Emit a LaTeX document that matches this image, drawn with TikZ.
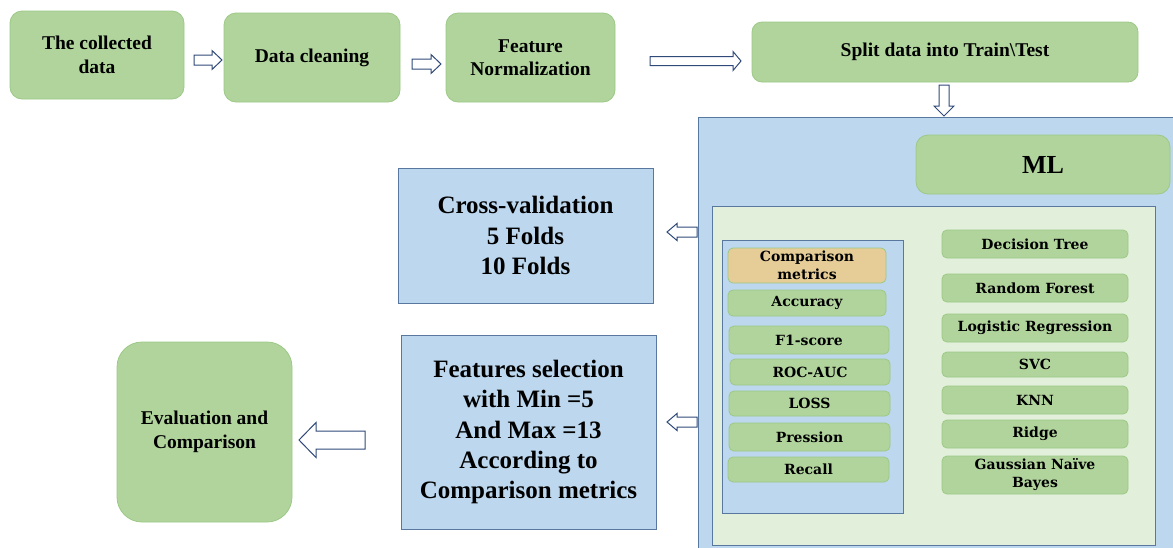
\documentclass[tikz,border=0pt]{standalone}
\usepackage{fontspec}
\setmainfont{Liberation Serif}
\newfontfamily\dvs{DejaVu Serif}
\usetikzlibrary{calc}
\definecolor{gfill}{HTML}{B1D49D}
\definecolor{gline}{HTML}{9CC986}
\definecolor{bfill}{HTML}{BDD7EE}
\definecolor{bline}{HTML}{5878A0}
\definecolor{lgfill}{HTML}{E2EFDA}
\definecolor{tan}{HTML}{E6CD98}
\definecolor{aline}{HTML}{2F4A78}
\tikzset{
  bigbox/.style={draw=gline, fill=gfill, rounded corners=12pt, line width=0.8pt, align=center,
    font=\bfseries\fontsize{19.5}{23.5}\selectfont, inner sep=0pt},
  bluebox/.style={draw=bline, fill=bfill, line width=1pt, align=center, inner sep=0pt},
  smallbox/.style={draw=gline, fill=gfill, rounded corners=5pt, line width=0.8pt, align=center,
    font=\dvs\bfseries\fontsize{14}{18}\selectfont, inner sep=0pt, minimum width=186pt, minimum height=28pt},
  metbox/.style={smallbox, minimum width=160pt},
  arrowst/.style={draw=aline, fill=white, line width=1pt, line join=miter},
}
% #1 tail, #2 tip, #3 shaft half width, #4 head half width, #5 head length
\newcommand{\blockarrow}[5]{%
  \coordinate (ba@b) at ($(#2)!#5!(#1)$);
  \draw[arrowst] ($(#1)!#3!90:(#2)$) -- ($(ba@b)!#3!-90:(#1)$) -- ($(ba@b)!#4!-90:(#1)$) -- (#2)
    -- ($(ba@b)!#4!90:(#1)$) -- ($(ba@b)!#3!90:(#1)$) -- ($(#1)!#3!-90:(#2)$) -- cycle;
}
\begin{document}
\begin{tikzpicture}[x=1pt,y=-1pt]
\useasboundingbox (0,0) rectangle (1173,547);
% top row
\node[bigbox, minimum width=174pt, minimum height=88pt] (n1) at (97,55) {The collected\\data};
\node[bigbox, minimum width=176pt, minimum height=89pt] (n2) at (312,57.5) {Data cleaning};
\node[bigbox, minimum width=169pt, minimum height=89pt] (n3) at (530.5,57.5) {Feature\\Normalization};
\node[bigbox, rounded corners=10pt, minimum width=386pt, minimum height=60pt] (n4) at (945,52) {Split data into Train\textbackslash Test};
% ML container
\node[bluebox, minimum width=477pt, minimum height=432pt] (mlc) at (936.5,333) {};
\node[bigbox, rounded corners=12pt, minimum width=254pt, minimum height=59pt, font=\bfseries\fontsize{26}{30}\selectfont] (ml) at (1043,164.5) {ML};
\node[draw=bline, fill=lgfill, line width=1pt, minimum width=443pt, minimum height=339pt, inner sep=0pt] (inner) at (933.5,375.5) {};
\node[bluebox, minimum width=181pt, minimum height=273pt] (met) at (812.5,376.5) {};
% metrics
\node[metbox, fill=tan, minimum width=158pt, minimum height=35pt] (cm) at (807,265.5) {Comparison\\metrics};
\node[metbox, minimum width=158pt, minimum height=26pt] (acc) at (807,303) {Accuracy};
\node[metbox, minimum height=28pt] (f1) at (809,340) {F1-score};
\node[metbox, minimum height=26pt] (roc) at (810,372) {ROC-AUC};
\node[metbox, minimum width=161pt, minimum height=25pt] (loss) at (809.5,403.5) {LOSS};
\node[metbox, minimum width=161pt, minimum height=28pt] (pre) at (809.5,437) {Pression};
\node[metbox, minimum width=161pt, minimum height=25pt] (rec) at (808.5,469.5) {Recall};
% models
\node[smallbox] (dt) at (1035,244) {Decision Tree};
\node[smallbox] (rf) at (1035,288) {Random Forest};
\node[smallbox] (lr) at (1035,328) {Logistic Regression};
\node[smallbox, minimum height=25pt] (svc) at (1035,364.5) {SVC};
\node[smallbox] (knn) at (1035,400) {KNN};
\node[smallbox] (rdg) at (1035,434) {Ridge};
\node[smallbox, minimum height=38pt] (gnb) at (1035,475) {Gaussian Naïve\\Bayes};
% left boxes
\node[bluebox, minimum width=255pt, minimum height=135pt, font=\bfseries\fontsize{25}{30.5}\selectfont] (cv) at (525.5,235.5) {Cross-validation\\5 Folds\\10 Folds};
\node[bluebox, minimum width=255pt, minimum height=194pt, font=\bfseries\fontsize{25}{30.3}\selectfont] (fs) at (528.5,432) {Features selection\\with Min =5\\And Max =13\\According to\\Comparison metrics};
\node[bigbox, rounded corners=25pt, minimum width=175pt, minimum height=180pt, font=\bfseries\fontsize{19.5}{24}\selectfont] (ev) at (204.5,432) {Evaluation and\\Comparison};
% arrows
\coordinate (t1) at (194,60); \coordinate (h1) at (222,60);
\coordinate (t2) at (412,64); \coordinate (h2) at (441,64);
\coordinate (t3) at (650,61); \coordinate (h3) at (741,61);
\coordinate (t4) at (944,85); \coordinate (h4) at (944,116);
\coordinate (t5) at (697,232); \coordinate (h5) at (667,232);
\coordinate (t6) at (697,422); \coordinate (h6) at (667,422);
\coordinate (t7) at (365,440); \coordinate (h7) at (299,440);
\blockarrow{t1}{h1}{5pt}{9.5pt}{10pt}
\blockarrow{t2}{h2}{5pt}{9.5pt}{10pt}
\blockarrow{t3}{h3}{4.5pt}{9.5pt}{8pt}
\blockarrow{t4}{h4}{5pt}{10pt}{10pt}
\blockarrow{t5}{h5}{5pt}{8.5pt}{10pt}
\blockarrow{t6}{h6}{5pt}{8.5pt}{10pt}
\blockarrow{t7}{h7}{9pt}{17.5pt}{17pt}
\end{tikzpicture}
\end{document}
